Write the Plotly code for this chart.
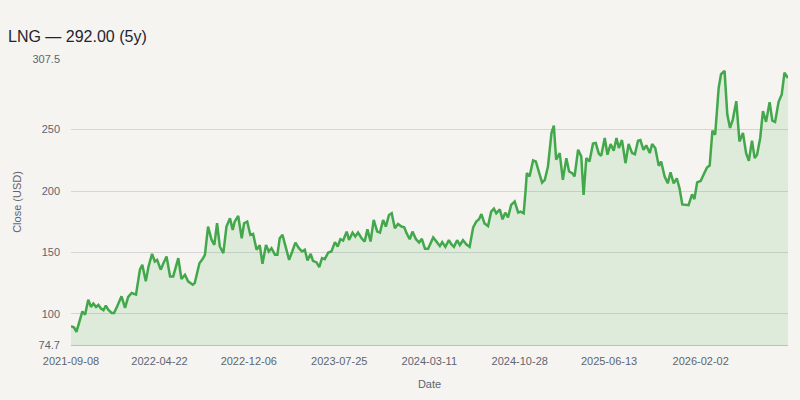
import pandas as pd
import plotly.graph_objects as go

ticker = "LNG"
start_date = "2021-09-08"

days_from_start = [
    0, 8, 14, 21, 29, 36, 44, 51, 57, 64, 70, 76, 83, 89, 95, 104, 110, 118, 129, 138,
    146, 155, 166, 176, 182, 191, 198, 207, 214, 220, 229, 236, 244, 253, 261, 274, 282, 291, 299, 311,
    316, 328, 336, 342, 350, 359, 366, 373, 380, 389, 397, 406, 413, 418, 427, 436, 442, 450,
    458, 465, 474, 482, 489, 498, 505, 512, 521, 527, 533, 540, 548, 557, 565, 573, 582, 590,
    597, 604, 612, 618, 627, 634, 641, 648, 657, 665, 674, 681, 688, 695, 704, 710, 719, 726,
    733, 742, 750, 757, 765, 773, 782, 789, 797, 804, 812, 819, 827, 835, 844, 851, 857, 865,
    872, 881, 889, 896, 904, 912,
    925, 933, 942, 948, 956, 965, 971, 978, 986, 993, 1001, 1010, 1018, 1027, 1035, 1042, 1048,
    1056, 1065, 1073, 1080, 1086, 1095, 1102, 1109, 1116, 1124, 1133, 1142, 1148, 1156, 1161, 1164,
    1171, 1180, 1187, 1194, 1203, 1210, 1218, 1227, 1233, 1239, 1248, 1256, 1265, 1272, 1280, 1286,
    1295, 1303, 1309, 1316, 1324, 1333, 1340, 1348, 1354, 1363, 1370,
    1378, 1386, 1393, 1399, 1407, 1416, 1424, 1433, 1440, 1448, 1454, 1462, 1469, 1478, 1484, 1492,
    1501, 1507, 1516, 1524, 1531, 1539, 1547, 1554, 1561, 1570, 1577, 1586, 1592, 1599, 1608, 1615,
    1624, 1631, 1638, 1645, 1654, 1660, 1669, 1676, 1683, 1690, 1699, 1707, 1716, 1724, 1731, 1739,
    1746, 1752, 1760, 1767, 1775, 1784, 1791, 1798, 1807, 1815, 1822, 1831,
]

close_usd = [
    90.0, 88.9, 85.4, 92.7, 102.0, 99.4, 111.6, 105.7, 108.4, 105.7, 107.3, 104.6, 103.0, 106.8, 103.5, 100.8, 100.8, 106.2, 114.3, 104.9,
    113.8, 117.0, 115.7, 136.0, 140.0, 126.5, 138.6, 148.9, 142.7, 144.0, 136.0, 141.3, 146.8, 130.5, 130.5, 145.4, 128.4, 131.9, 126.5, 123.8,
    125.1, 141.3, 144.6, 148.1, 171.1, 160.3, 156.2, 173.8, 154.9, 149.5, 171.1, 177.8, 168.4, 175.1, 179.7, 161.6, 173.8, 175.1,
    164.3, 165.1, 152.2, 155.9, 140.8, 156.2, 150.8, 153.5, 148.1, 148.1, 161.6, 164.3, 154.9, 144.0, 150.8, 158.1, 153.5, 150.8,
    152.2, 143.5, 148.9, 143.2, 141.9, 138.1, 145.4, 144.6, 150.0, 150.8, 158.4, 154.9, 160.8, 159.7, 167.0, 160.3, 166.2, 163.0,
    166.2, 161.6, 158.9, 168.9, 158.9, 176.5, 167.0, 166.2, 176.5, 171.1, 180.5, 181.9, 169.7, 173.2, 171.1, 170.5, 165.7, 160.8,
    167.0, 160.8, 158.1, 161.1, 153.0, 153.0,
    162.3, 159.3, 155.2, 158.4, 154.6, 160.0, 156.8, 154.6, 160.0, 156.0, 160.0, 156.5, 154.6, 170.4, 175.1, 177.0, 181.3,
    173.7, 171.5, 183.2, 185.7, 181.9, 185.1, 177.0, 182.4, 178.6, 188.7, 191.4, 182.4, 183.2, 181.9, 201.0, 214.6,
    211.9, 224.9, 224.1, 215.9, 206.9, 209.1, 220.0, 247.3, 253.3, 225.5, 230.9, 209.1, 226.8, 215.9, 214.6, 211.9,
    233.7, 228.2, 196.9, 226.8, 224.1, 238.6, 239.1, 230.4, 228.7, 243.2, 229.6,
    238.3, 232.8, 243.2, 235.0, 241.5, 222.7, 238.3, 230.9, 230.0, 241.0, 241.5, 233.6, 237.2, 230.9, 238.3, 235.0,
    220.5, 224.0, 211.8, 206.3, 215.3, 206.3, 210.4, 202.2, 189.1, 188.5, 188.5, 197.3, 193.4, 207.1, 208.2, 213.1,
    219.1, 220.8, 249.2, 245.9, 284.1, 295.1, 297.8, 262.3, 251.4, 258.2, 273.2, 240.4, 247.3, 230.9, 224.6, 241.0,
    226.8, 229.5, 243.2, 265.0, 256.3, 272.4, 257.4, 256.3, 272.7, 278.7, 296.4, 292.0,
]

x_tick_dates = ["2021-09-08", "2022-04-22", "2022-12-06", "2023-07-25",
                "2024-03-11", "2024-10-28", "2025-06-13", "2026-02-02"]
y_tick_values = [74.7, 100, 150, 200, 250, 307.5]
y_tick_labels = ["74.7", "100", "150", "200", "250", "307.5"]
y_min, y_max = 74.7, 307.5

dates = pd.to_datetime(start_date) + pd.to_timedelta(days_from_start, unit="D")

BG = "#f5f4f0"
LINE = "#43a84b"
FONT = "Liberation Sans, Arial, sans-serif"
TXT = "#5f6470"

fig = go.Figure()
fig.add_trace(go.Scatter(
    x=dates, y=close_usd, mode="lines",
    line=dict(color=LINE, width=2.5),
    fill="tozeroy", fillcolor="rgba(61,170,74,0.12)",
    hoverinfo="skip", showlegend=False,
))

fig.update_layout(
    width=800, height=400,
    paper_bgcolor=BG, plot_bgcolor=BG,
    margin=dict(l=71, r=12, t=59, b=55),
    font=dict(family=FONT, size=11, color=TXT),
    title=dict(
        text=f"{ticker} — {close_usd[-1]:.2f} (5y)",
        font=dict(family=FONT, size=16, color="#1f2430"),
        x=8 / 800, xref="container", xanchor="left",
        y=1 - 36 / 400, yref="container", yanchor="middle",
        pad=dict(l=0, r=0, t=0, b=0),
    ),
    xaxis=dict(
        type="date",
        range=[dates[0], dates[-1]],
        tickvals=x_tick_dates, tickformat="%Y-%m-%d",
        showgrid=False, zeroline=False,
        showline=True, linecolor="#b9c0c8", linewidth=1,
        ticks="", ticklabelstandoff=6,
        tickfont=dict(size=11, color=TXT),
        title=dict(text="Date", font=dict(size=11, color=TXT), standoff=14),
    ),
    yaxis=dict(
        range=[y_min, y_max],
        tickvals=y_tick_values, ticktext=y_tick_labels,
        showgrid=True, gridcolor="#d5d5d5", gridwidth=1,
        zeroline=False, showline=False,
        ticks="", ticklabelstandoff=10,
        tickfont=dict(size=11, color=TXT),
        title=dict(text="Close (USD)", font=dict(size=11, color=TXT), standoff=8),
    ),
)

fig.write_html(
    "out.html",
    config={"displayModeBar": False},
    post_script="document.body.style.margin='0';document.body.style.background='" + BG + "';",
)
